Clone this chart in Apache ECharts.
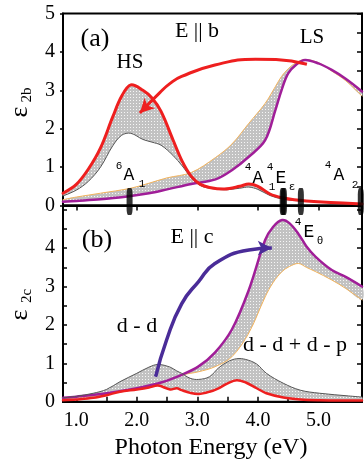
<!DOCTYPE html>
<html>
<head>
<meta charset="utf-8">
<script src="https://cdn.jsdelivr.net/npm/echarts@6/dist/echarts.min.js"></script>
<style>
  html, body { margin: 0; padding: 0; background: #fff; }
  #chart { width: 364px; height: 465px; }
</style>
</head>
<body>
<div id="chart"></div>
<script>
// panel (a) E || b : HS pair (red top, gray bottom)
var hsE    = [0.78, 1.0, 1.2, 1.4, 1.6, 1.75, 1.9, 2.1, 2.25, 2.4, 2.6, 2.75, 2.9, 3.05, 3.2, 3.45, 3.7, 3.85, 4.0, 4.2, 4.4, 4.6, 4.8, 5.2, 5.72];
var hsRed  = [0.32, 0.55, 0.95, 1.5, 2.3, 2.85, 3.14, 3.0, 2.8, 2.45, 1.7, 1.15, 0.76, 0.55, 0.47, 0.43, 0.5, 0.56, 0.5, 0.3, 0.2, 0.15, 0.12, 0.08, 0.04];
var hsGray = [0.25, 0.4, 0.63, 1.0, 1.55, 1.83, 1.88, 1.72, 1.65, 1.57, 1.3, 1.03, 0.72, 0.52, 0.45, 0.41, 0.45, 0.48, 0.42, 0.26, 0.17, 0.13, 0.11, 0.08, 0.04];
// panel (a) LS pair (purple, orange)
var lsaE      = [0.78, 1.0, 1.4, 1.9, 2.2, 2.5, 2.9, 3.3, 3.57, 3.85, 4.12, 4.29, 4.39, 4.5, 4.64, 4.78, 5.0, 5.22, 5.45, 5.72];
var lsaPurple = [0.1, 0.12, 0.16, 0.25, 0.32, 0.42, 0.56, 0.68, 0.92, 1.27, 1.7, 2.49, 3.0, 3.44, 3.68, 3.79, 3.7, 3.53, 3.3, 2.97];
var lsaOrange = [0.15, 0.22, 0.32, 0.45, 0.58, 0.72, 0.86, 1.25, 1.6, 2.14, 2.66, 3.1, 3.36, 3.56, 3.73, 3.8, 3.72, 3.5, 3.25, 2.85];
// panel (b) E || c : LS pair
var lsbE      = [0.78, 1.0, 1.5, 2.0, 2.4, 2.74, 3.02, 3.29, 3.57, 3.85, 4.12, 4.25, 4.4, 4.52, 4.67, 4.8, 4.95, 5.22, 5.45, 5.72];
var lsbPurple = [0.1, 0.13, 0.22, 0.35, 0.5, 0.7, 0.92, 1.28, 1.88, 2.91, 4.21, 4.55, 4.73, 4.65, 4.37, 4.05, 3.78, 3.43, 3.25, 3.0];
var lsbOrange = [0.08, 0.11, 0.2, 0.33, 0.48, 0.69, 0.78, 0.91, 1.17, 1.79, 2.73, 3.1, 3.39, 3.52, 3.6, 3.5, 3.39, 3.17, 2.95, 2.65];
// panel (b) d-d pair (gray top, red bottom)
var ddE    = [0.78, 1.0, 1.28, 1.5, 1.72, 2.0, 2.2, 2.35, 2.55, 2.66, 2.74, 2.88, 3.02, 3.2, 3.35, 3.5, 3.65, 3.8, 3.98, 4.14, 4.42, 4.7, 5.02, 5.5, 5.72];
var ddGray = [0.1, 0.14, 0.22, 0.32, 0.52, 0.74, 0.9, 0.97, 0.9, 0.8, 0.74, 0.61, 0.58, 0.65, 0.88, 1.04, 1.12, 1.1, 0.98, 0.74, 0.48, 0.3, 0.22, 0.15, 0.12];
var ddRed  = [0.04, 0.06, 0.1, 0.17, 0.26, 0.32, 0.37, 0.42, 0.32, 0.35, 0.3, 0.23, 0.2, 0.26, 0.35, 0.48, 0.56, 0.5, 0.35, 0.22, 0.11, 0.06, 0.04, 0.03, 0.03];
// arrows
var arrowA = [[4.81, 3.68], [4.3, 3.8], [3.96, 3.81], [3.29, 3.66], [2.74, 3.36], [2.55, 3.18], [2.38, 2.94], [2.05, 2.41]];
var arrowB = [[2.31, 0.65], [2.49, 1.6], [2.74, 2.55], [3.02, 3.13], [3.29, 3.6], [3.85, 3.95], [4.23, 4.0]];
// transition markers on the energy axis
var markE = [1.88, 4.41, 4.43, 4.71, 5.70];
// ticks
var xMajor = [1, 2, 3, 4, 5];
var xMinor = [1, 1.5, 2, 2.5, 3, 3.5, 4, 4.5, 5, 5.5];
var yHalf = [0.5, 1, 1.5, 2, 2.5, 3, 3.5, 4, 4.5, 5];

var RED = '#ee1f1f', PURPLE = '#a01e98', ORANGE = '#f2b35c', GRAY = '#555', BLUE = '#4a2c98';
var SERIF = '"Liberation Serif", "DejaVu Serif", serif';
var MONO = '"Liberation Mono", "DejaVu Sans Mono", monospace';

var pat = document.createElement('canvas');
pat.width = 3; pat.height = 3;
var pg = pat.getContext('2d');
pg.fillStyle = '#c2c2c2'; pg.fillRect(0, 0, 3, 3);
pg.fillStyle = '#f6f6f6'; pg.fillRect(1, 1, 1, 1);
var dots = { image: pat, repeat: 'repeat' };

var SM = 0.35;
// gray dotted band between two curves that share the same energies
function band(xi, yi, xs, lo, hi) {
  return {
    type: 'custom', xAxisIndex: xi, yAxisIndex: yi, data: [[xs[0], lo[0]]], z: 1, silent: true,
    renderItem: function (params, api) {
      var pts = [];
      for (var i = 0; i < xs.length; i++) pts.push(api.coord([xs[i], hi[i]]));
      for (var j = xs.length - 1; j >= 0; j--) pts.push(api.coord([xs[j], lo[j]]));
      return { type: 'polygon', shape: { points: pts, smooth: SM }, style: { fill: dots, stroke: null } };
    }
  };
}
// smooth curve drawn with the same smoothing as the band edges
function curve(xi, yi, xs, ys, color, w, z) {
  return {
    type: 'custom', xAxisIndex: xi, yAxisIndex: yi, data: [[xs[0], ys[0]]], z: z || 3, silent: true,
    renderItem: function (params, api) {
      var pts = xs.map(function (x, i) { return api.coord([x, ys[i]]); });
      return { type: 'polyline', shape: { points: pts, smooth: SM },
        style: { stroke: color, lineWidth: w, fill: null, lineJoin: 'round', lineCap: 'round' } };
    }
  };
}
function arrow(xi, yi, pts, color, w, rot) {
  var data = pts.map(function (p, i) {
    if (i < pts.length - 1) return { value: p, symbol: 'none' };
    return { value: p, symbol: 'arrow', symbolSize: [11, 14], symbolRotate: rot };
  });
  return { type: 'line', xAxisIndex: xi, yAxisIndex: yi, data: data, smooth: 0.5, showSymbol: true,
    lineStyle: { color: color, width: w }, itemStyle: { color: color }, clip: false, z: 6, silent: true };
}
function txt(x, y, s, size, font, extra) {
  var el = { type: 'text', x: x, y: y, silent: true, z: 10,
    style: { text: s, fill: '#000', fontSize: size, fontFamily: font, align: 'center', verticalAlign: 'middle' } };
  if (extra) for (var k in extra) el[k] = extra[k];
  return el;
}

var axLine = { lineStyle: { color: '#000', width: 2 } };
var lab = { color: '#000', fontSize: 20, fontFamily: SERIF };

function xAx(gi, pos, ticks, inside, labels) {
  return {
    type: 'value', gridIndex: gi, position: pos, min: 0.78, max: 5.72,
    axisLine: axLine, splitLine: { show: false },
    axisTick: { customValues: ticks, inside: inside, length: 5, lineStyle: { color: '#000', width: 1.5 } },
    axisLabel: labels ? Object.assign({ customValues: labels, margin: 9,
      formatter: function (v) { return v.toFixed(1); } }, lab) : { show: false }
  };
}
function yAx(gi, pos, max, ticks, inside, len, labels) {
  return {
    type: 'value', gridIndex: gi, position: pos, min: 0, max: max,
    axisLine: axLine, splitLine: { show: false },
    axisTick: { customValues: ticks, inside: inside, length: len, lineStyle: { color: '#000', width: 1.5 } },
    axisLabel: labels ? Object.assign({ customValues: labels, margin: 8 }, lab) : { show: false }
  };
}

var series = [
  band(0, 0, lsaE, lsaPurple, lsaOrange),
  band(0, 0, hsE, hsGray, hsRed),
  curve(0, 0, lsaE, lsaOrange, ORANGE, 1),
  curve(0, 0, lsaE, lsaPurple, PURPLE, 2.5),
  curve(0, 0, hsE, hsGray, GRAY, 1),
  curve(0, 0, hsE, hsRed, RED, 3, 4),
  arrow(0, 0, arrowA, RED, 3, 135),
  { type: 'scatter', xAxisIndex: 0, yAxisIndex: 0, data: markE.map(function (e) { return [e, 0]; }),
    symbol: 'roundRect', symbolSize: [6, 27], symbolOffset: [0, -4], itemStyle: { color: '#000' },
    clip: false, z: 7, silent: true },
  band(2, 2, lsbE, lsbOrange, lsbPurple),
  band(2, 2, ddE, ddRed, ddGray),
  curve(2, 2, lsbE, lsbOrange, ORANGE, 1),
  curve(2, 2, lsbE, lsbPurple, PURPLE, 2.5),
  curve(2, 2, ddE, ddGray, GRAY, 1),
  curve(2, 2, ddE, ddRed, RED, 2.5, 4),
  arrow(2, 2, arrowB, BLUE, 3.5, -90)
];

var chart = echarts.init(document.getElementById('chart'), null, { renderer: 'canvas' });
chart.setOption({
  animation: false,
  backgroundColor: '#fff',
  grid: [
    { left: 63, right: 2, top: 13.5, height: 192, show: true, borderColor: '#000', borderWidth: 2 },
    { left: 63, right: 2, top: 205.5, height: 196.2, show: true, borderColor: '#000', borderWidth: 2 }
  ],
  xAxis: [
    xAx(0, 'bottom', xMajor, false),
    xAx(0, 'top', xMajor, true),
    xAx(1, 'bottom', xMinor, true, xMajor)
  ],
  yAxis: [
    yAx(0, 'left', 5, [0, 1, 2, 3, 4, 5], false, 3, [0, 1, 2, 3, 4, 5]),
    yAx(0, 'right', 5, yHalf, true, 5),
    yAx(1, 'left', 5.11, yHalf, true, 4, [0, 1, 2, 3, 4]),
    yAx(1, 'right', 5.11, yHalf, true, 5)
  ],
  series: series,
  graphic: [
    txt(95, 39, '(a)', 26, SERIF),
    txt(130, 62, 'HS', 21, SERIF),
    txt(197, 31, 'E || b', 22, SERIF),
    txt(312, 37, 'LS', 21, SERIF),
    txt(97, 240, '(b)', 26, SERIF),
    txt(192, 237, 'E || c', 22, SERIF),
    txt(137, 326, 'd - d', 22, SERIF),
    txt(295, 345, 'd - d + d - p', 22, SERIF),
    txt(211, 448, 'Photon Energy (eV)', 24, SERIF),
    // state labels
    txt(119, 166, '6', 11, MONO), txt(129, 175, 'A', 18, MONO), txt(142, 184, '1', 11, MONO),
    txt(248, 167, '4', 11, MONO), txt(258, 178, 'A', 18, MONO), txt(272, 187, '1', 11, MONO),
    txt(270, 167, '4', 11, MONO), txt(281, 178, 'E', 18, MONO), txt(292, 187, 'ε', 11, MONO),
    txt(328, 165, '4', 11, MONO), txt(339, 175, 'A', 18, MONO), txt(355, 185, '2', 11, MONO),
    txt(298, 222, '4', 11, MONO), txt(309, 232, 'E', 18, MONO), txt(320, 241, 'θ', 11, MONO),
    // y axis names
    txt(20, 112, 'ε', 26, SERIF, { rotation: Math.PI / 2 }),
    txt(27, 95, '2b', 15, SERIF, { rotation: Math.PI / 2 }),
    txt(20, 315, 'ε', 26, SERIF, { rotation: Math.PI / 2 }),
    txt(27, 296, '2c', 15, SERIF, { rotation: Math.PI / 2 })
  ]
});
</script>
</body>
</html>
